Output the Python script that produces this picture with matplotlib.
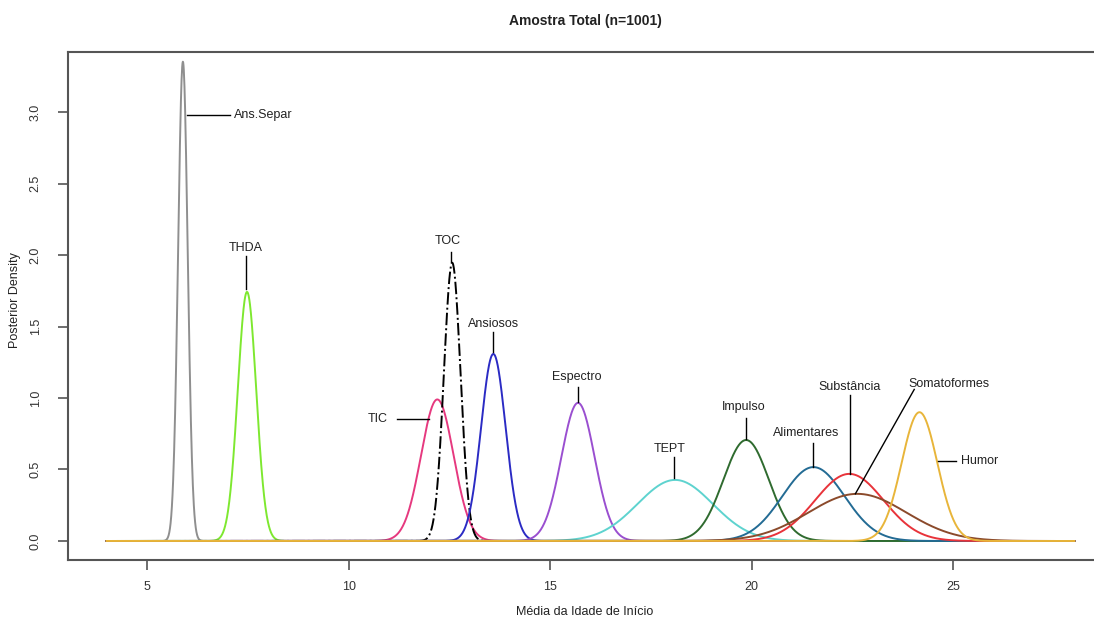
"""
Posterior densities of mean age of onset, one curve per diagnostic group.
"""

import numpy as np
import matplotlib.pyplot as plt

plt.rcParams['font.family'] = ['Liberation Sans', 'DejaVu Sans']

# posterior means and standard deviations
groups = ['Ans.Separ', 'THDA', 'TIC', 'TOC', 'Ansiosos', 'Espectro', 'TEPT',
          'Impulso', 'Alimentares', 'Substância', 'Somatoformes', 'Humor']
means = [5.89, 7.48, 12.20, 12.57, 13.59, 15.69, 18.10, 19.86, 21.53, 22.42, 22.62, 24.16]
sds = [0.119, 0.229, 0.403, 0.205, 0.305, 0.413, 0.934, 0.565, 0.772, 0.850, 1.21, 0.443]
colors = ['#8f8f8f', '#7ee830', '#e6397f', '#000000', '#2b2bc4', '#9a4fd0', '#5ed3cf',
          '#2f6b2f', '#236b94', '#e8333a', '#8b4a2b', '#e8b53a']
styles = ['-', '-', '-', '-.', '-', '-', '-', '-', '-', '-', '-', '-']

x_ticks = [5, 10, 15, 20, 25]
y_ticks = [0.0, 0.5, 1.0, 1.5, 2.0, 2.5, 3.0]

# label text position and leader line (x0, y0, x1, y1) for each group
label_pos = {
    'Ans.Separ':    (7.15, 2.98, 'left',   (5.99, 2.98, 7.05, 2.98)),
    'THDA':         (7.45, 2.05, 'center', (7.45, 1.99, 7.45, 1.76)),
    'TOC':          (12.45, 2.10, 'center', (12.55, 2.02, 12.55, 1.95)),
    'Ansiosos':     (13.59, 1.52, 'center', (13.59, 1.46, 13.59, 1.32)),
    'Espectro':     (15.67, 1.15, 'center', (15.69, 1.08, 15.69, 0.97)),
    'TIC':          (10.97, 0.85, 'right',  (11.19, 0.85, 12.0, 0.85)),
    'TEPT':         (17.97, 0.64, 'center', (18.07, 0.59, 18.07, 0.44)),
    'Impulso':      (19.80, 0.94, 'center', (19.86, 0.86, 19.86, 0.71)),
    'Alimentares':  (21.34, 0.755, 'center', (21.53, 0.685, 21.53, 0.52)),
    'Substância':   (22.43, 1.08, 'center', (22.43, 1.02, 22.43, 0.47)),
    'Somatoformes': (24.90, 1.10, 'center', (24.03, 1.06, 22.57, 0.33)),
    'Humor':        (25.19, 0.56, 'left',   (24.63, 0.56, 25.07, 0.56)),
}

W, H = 1094, 619
fig = plt.figure(figsize=(W / 100, H / 100), dpi=100)
# plot region in pixels: left 68, right 1113 (cut off by the image), bottom 560, top 52
ax = fig.add_axes([68 / W, (H - 560) / H, (1113 - 68) / W, (560 - 52) / H])

x = np.linspace(4, 28, 3000)
for name, m, s, c, ls in zip(groups, means, sds, colors, styles):
    dens = np.exp(-0.5 * ((x - m) / s) ** 2) / (s * np.sqrt(2 * np.pi))
    ax.plot(x, dens, color=c, linestyle=ls, linewidth=1.4)

for name in groups:
    tx, ty, ha, (x0, y0, x1, y1) = label_pos[name]
    ax.plot([x0, x1], [y0, y1], color='black', linewidth=1.0)
    ax.text(tx, ty, name, ha=ha, va='center', fontsize=9, color='#222222')

ax.set_xlim(3.04, 28.96)
ax.set_ylim(-0.133, 3.42)
ax.set_xticks(x_ticks)
ax.set_xticklabels([str(t) for t in x_ticks])
ax.set_yticks(y_ticks)
ax.set_yticklabels([f'{t:.1f}' for t in y_ticks], rotation=90, va='center')

for sp in ax.spines.values():
    sp.set_color('#555555')
    sp.set_linewidth(1.5)
ax.tick_params(direction='out', length=7, width=1.2, colors='#555555',
               labelcolor='#333333', labelsize=9, pad=8)
ax.tick_params(axis='y', pad=12)

fig.text(585 / W, 1 - 21 / H, 'Amostra Total (n=1001)', ha='center', va='center',
         fontsize=10, fontweight='bold', color='#222222')
fig.text(585 / W, 1 - 612 / H, 'Média da Idade de Início', ha='center', va='center',
         fontsize=9, color='#222222')
fig.text(15 / W, 1 - 300 / H, 'Posterior Density', ha='center', va='center',
         rotation=90, fontsize=9, color='#222222')

fig.savefig('out.png', dpi=100)
